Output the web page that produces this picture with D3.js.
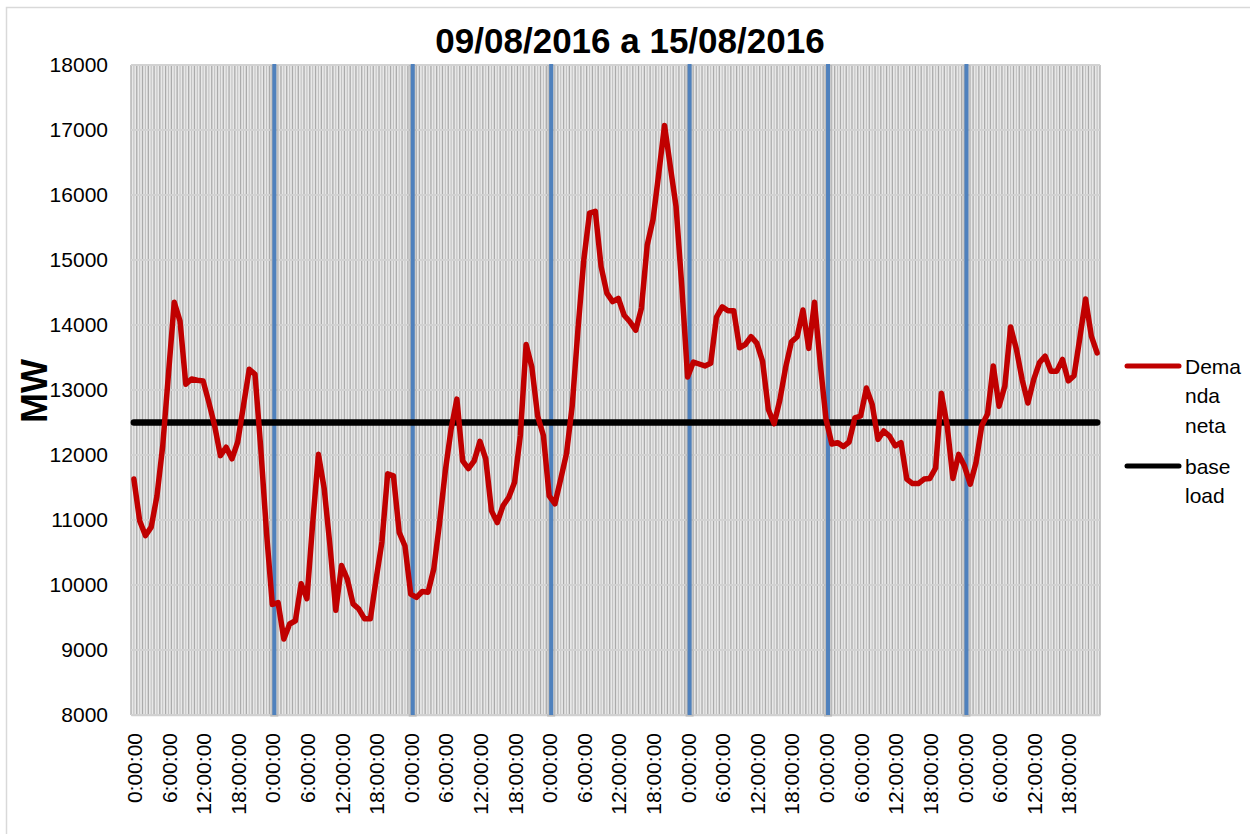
<!DOCTYPE html>
<html>
<head>
<meta charset="utf-8">
<script src="https://cdn.jsdelivr.net/npm/d3@7"></script>
<style>
  html, body { margin: 0; padding: 0; background: #ffffff; }
  svg { display: block; font-family: "Liberation Sans", Arial, sans-serif; }
</style>
</head>
<body>
<svg id="chart" width="1250" height="834"></svg>
<script>
// Hourly net demand (MW), 09/08/2016 00:00 to 15/08/2016 23:00
const demandaNeta = [
  11630, 10990, 10760, 10890, 11370, 12140, 13250, 14350, 14060, 13090, 13170, 13150,
  13140, 12810, 12450, 11990, 12120, 11940, 12200, 12760, 13320, 13240, 12100, 10800,
  9700, 9730, 9170, 9400, 9450, 10020, 9790, 10950, 12010, 11480, 10600, 9610,
  10300, 10090, 9710, 9630, 9480, 9480, 10090, 10660, 11710, 11680, 10810, 10600,
  9860, 9810, 9900, 9890, 10250, 10960, 11760, 12400, 12860, 11910, 11790, 11910,
  12210, 11940, 11140, 10960, 11220, 11350, 11580, 12300, 13700, 13350, 12600, 12300,
  11370, 11250, 11630, 12020, 12760, 13940, 15000, 15720, 15750, 14900, 14490, 14360,
  14410, 14150, 14050, 13920, 14260, 15230, 15620, 16330, 17070, 16440, 15820, 14590,
  13200, 13430, 13400, 13370, 13410, 14120, 14280, 14220, 14220, 13650, 13700, 13820,
  13720, 13440, 12700, 12480, 12850, 13350, 13740, 13820, 14230, 13640, 14350, 13400,
  12550, 12170, 12190, 12130, 12200, 12570, 12600, 13030, 12780, 12240, 12370, 12290,
  12140, 12190, 11630, 11560, 11560, 11630, 11640, 11800, 12950, 12450, 11640, 12010,
  11830, 11550, 11880, 12450, 12630, 13370, 12750, 13060, 13970, 13630, 13160, 12800,
  13160, 13420, 13520, 13290, 13290, 13470, 13140, 13220, 13800, 14400, 13830, 13570
];

// Constant base load level (MW)
const baseLoad = 12500;

// Axis labels
const days = 7;
const hourLabels = ["0:00:00", "6:00:00", "12:00:00", "18:00:00"];
const yTicks = [8000, 9000, 10000, 11000, 12000, 13000, 14000, 15000, 16000, 17000, 18000];

const titleText = "09/08/2016 a 15/08/2016";
const yTitle = "MW";
const legendItems = [
  { lines: ["Dema", "nda", "neta"], color: "#c00000" },
  { lines: ["base", "load"], color: "#000000" }
];

// Category labels: one per hour, text shown every 6 hours
const categories = d3.range(demandaNeta.length);
const catLabel = i => hourLabels[(i % 24) / 6];

const svg = d3.select("#chart");
const plot = { left: 131, right: 1100, top: 65, bottom: 715 };

const x = d3.scalePoint().domain(categories).range([plot.left, plot.right]).padding(0.5);
const step = x.step();
const y = d3.scaleLinear().domain([8000, 18000]).range([plot.bottom, plot.top]);

// Outer chart frame
svg.append("rect")
  .attr("x", 6.5).attr("y", 7.5).attr("width", 1300).attr("height", 900)
  .attr("fill", "#ffffff").attr("stroke", "#d9d9d9").attr("stroke-width", 1.5);

// Plot area background
svg.append("rect")
  .attr("x", plot.left).attr("y", plot.top)
  .attr("width", plot.right - plot.left).attr("height", plot.bottom - plot.top)
  .attr("fill", "#e8e8e8");

// Vertical gridlines: major at each hour boundary, minor at each hour centre
const vg = svg.append("g");
vg.selectAll("line.major")
  .data(d3.range(categories.length + 1))
  .join("line")
  .attr("class", "major")
  .attr("x1", i => plot.left + i * step).attr("x2", i => plot.left + i * step)
  .attr("y1", plot.top).attr("y2", plot.bottom)
  .attr("stroke", "#ababab").attr("stroke-width", 1.3);
vg.selectAll("line.minor")
  .data(categories)
  .join("line")
  .attr("class", "minor")
  .attr("x1", d => x(d)).attr("x2", d => x(d))
  .attr("y1", plot.top).attr("y2", plot.bottom)
  .attr("stroke", "#c2c2c2").attr("stroke-width", 1.1);

// Horizontal gridlines
svg.append("g")
  .selectAll("line")
  .data(yTicks)
  .join("line")
  .attr("x1", plot.left).attr("x2", plot.right)
  .attr("y1", d => y(d)).attr("y2", d => y(d))
  .attr("stroke", "#d2d2d2").attr("stroke-width", 2);

// Y axis (labels only)
const yAxis = svg.append("g")
  .attr("transform", `translate(${plot.left},0)`)
  .call(d3.axisLeft(y).tickValues(yTicks).tickSize(0).tickPadding(23).tickFormat(d3.format("d")));
yAxis.select(".domain").remove();
yAxis.selectAll("text")
  .attr("font-size", 21).attr("fill", "#000").attr("font-family", "Liberation Sans, Arial, sans-serif");

// X axis labels, rotated, clipped at the frame bottom
svg.append("clipPath").attr("id", "xlabClip")
  .append("rect").attr("x", 0).attr("y", 0).attr("width", 1250).attr("height", 815);
const xAxis = svg.append("g")
  .attr("clip-path", "url(#xlabClip)")
  .append("g")
  .attr("transform", `translate(0,${plot.bottom})`)
  .call(d3.axisBottom(x)
    .tickValues(categories.filter(i => i % 6 === 0))
    .tickSize(0)
    .tickFormat(catLabel));
xAxis.select(".domain").attr("stroke", "#d0d0d0").attr("stroke-width", 1.5);
xAxis.selectAll("text")
  .attr("font-size", 21).attr("fill", "#000").attr("font-family", "Liberation Sans, Arial, sans-serif")
  .attr("text-anchor", "end")
  .attr("transform", "rotate(-90)")
  .attr("x", -18).attr("y", 0).attr("dy", "0.36em");

// Day separators (with soft shadow)
const dayStarts = d3.range(1, days).map(d => d * 24);
const sep = svg.append("g");
sep.selectAll("line.shadow")
  .data(dayStarts)
  .join("line")
  .attr("class", "shadow")
  .attr("x1", d => x(d) + 2).attr("x2", d => x(d) + 2)
  .attr("y1", plot.top).attr("y2", plot.bottom + 2)
  .attr("stroke", "#8c8c8c").attr("stroke-opacity", 0.3).attr("stroke-width", 8);
sep.selectAll("line.sep")
  .data(dayStarts)
  .join("line")
  .attr("class", "sep")
  .attr("x1", d => x(d) + 2).attr("x2", d => x(d) + 2)
  .attr("y1", plot.top - 1).attr("y2", plot.bottom)
  .attr("stroke", "#4f81bd").attr("stroke-width", 4);

// Base load series
const line = d3.line().x((d, i) => x(i)).y(d => y(d));
svg.append("path")
  .datum(categories.map(() => baseLoad))
  .attr("d", line)
  .attr("fill", "none").attr("stroke", "#000000").attr("stroke-width", 6.5)
  .attr("stroke-linecap", "round");

// Net demand series
svg.append("path")
  .datum(demandaNeta)
  .attr("d", line)
  .attr("fill", "none").attr("stroke", "#c00000").attr("stroke-width", 5.5)
  .attr("stroke-linejoin", "round").attr("stroke-linecap", "round");

// Title
svg.append("text")
  .attr("x", 630).attr("y", 53)
  .attr("text-anchor", "middle")
  .attr("font-size", 35).attr("font-weight", "bold")
  .text(titleText);

// Y axis title
svg.append("text")
  .attr("transform", "translate(47,391) rotate(-90)")
  .attr("text-anchor", "middle")
  .attr("font-size", 36).attr("font-weight", "bold")
  .text(yTitle);

// Legend
const legend = svg.append("g");
let ly = 366;
legendItems.forEach(item => {
  legend.append("line")
    .attr("x1", 1127).attr("x2", 1179).attr("y1", ly).attr("y2", ly)
    .attr("stroke", item.color).attr("stroke-width", 5).attr("stroke-linecap", "round");
  const t = legend.append("text").attr("x", 1185).attr("y", ly + 7.5).attr("font-size", 21);
  item.lines.forEach((s, k) => {
    t.append("tspan").attr("x", 1185).attr("dy", k === 0 ? 0 : 29.5).text(s);
  });
  ly += 100;
});
</script>
</body>
</html>
